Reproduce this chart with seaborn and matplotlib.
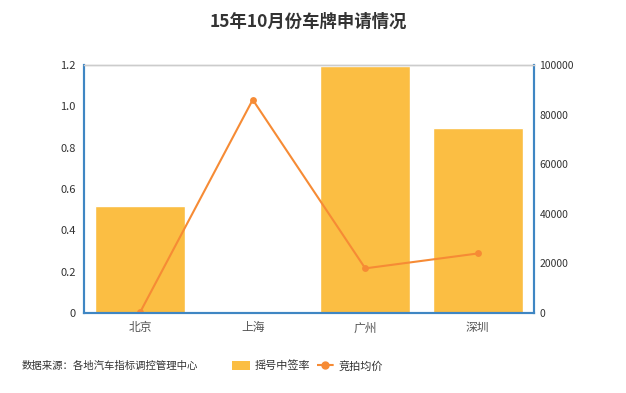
import matplotlib
matplotlib.use('Agg')
import matplotlib.pyplot as plt
import seaborn as sns
import pandas as pd
from matplotlib.patches import Patch
from matplotlib.lines import Line2D

cities = ['北京', '上海', '广州', '深圳']
lottery_rate = [0.52, 0.0, 1.195, 0.895]
avg_price = [400, 86000, 18000, 24000]

sns.set_style('white')
plt.rcParams['font.family'] = ['Noto Sans CJK SC', 'DejaVu Sans']

df = pd.DataFrame({'city': cities, 'rate': lottery_rate, 'price': avg_price})

bar_color = '#FBBE43'
line_color = '#F68B35'
axis_blue = '#3F86C3'

fig = plt.figure(figsize=(6.26, 3.93), dpi=100)
ax = fig.add_axes([84 / 626, 1 - 313 / 393, 450 / 626, 248 / 393])

sns.barplot(data=df, x='city', y='rate', color=bar_color, width=0.8,
            saturation=1, ax=ax)
ax.set_ylim(0, 1.2)
ax.set_xlim(-0.5, 3.5)
ax.set_yticks([0, 0.2, 0.4, 0.6, 0.8, 1.0, 1.2])
ax.set_yticklabels(['0', '0.2', '0.4', '0.6', '0.8', '1.0', '1.2'])
ax.set_xlabel('')
ax.set_ylabel('')

ax2 = ax.twinx()
sns.pointplot(data=df, x='city', y='price', color=line_color, markers='o',
              markersize=3.8, linewidth=1.5, ax=ax2)
ax2.set_ylim(0, 100000)
ax2.set_xlim(-0.5, 3.5)
ax2.set_yticks([0, 20000, 40000, 60000, 80000, 100000])
ax2.set_ylabel('')
ax2.set_xlabel('')

for a in (ax, ax2):
    a.spines['top'].set_color('#cccccc')
    a.spines['top'].set_linewidth(1)
    for s in ('left', 'right', 'bottom'):
        a.spines[s].set_color(axis_blue)
        a.spines[s].set_linewidth(1.5)
    a.tick_params(axis='y', length=0, labelsize=8, labelcolor='#333333', pad=6)

ax.tick_params(axis='x', length=0, labelsize=8.5, labelcolor='#555555', pad=6)
# category boundary ticks
ax.set_xticks([-0.5, 0.5, 1.5, 2.5, 3.5], minor=True)
ax.tick_params(axis='x', which='minor', length=4, color='#333333', width=1)
ax2.tick_params(axis='y', labelsize=7.5, labelcolor='#333333', pad=4)

fig.text(308 / 626, 1 - 22 / 393, '15年10月份车牌申请情况', ha='center', va='center',
         fontsize=12.5, fontweight='bold', color='#333333')
fig.text(22 / 626, 1 - 366 / 393, '数据来源：各地汽车指标调控管理中心', ha='left', va='center',
         fontsize=7.5, color='#333333')

handles = [Patch(facecolor=bar_color, edgecolor='none'),
           Line2D([0], [0], color=line_color, marker='o', markersize=5, linewidth=1.5,
                  linestyle='--', dashes=(3, 2))]
fig.legend(handles, ['摇号中签率', '竞拍均价'], loc='center left',
           bbox_to_anchor=(222 / 626, 1 - 366 / 393), ncol=2, frameon=False,
           fontsize=8, handlelength=1.6, handleheight=0.9, columnspacing=0.6,
           handletextpad=0.4, labelcolor='#333333')

fig.savefig('out.png', dpi=100)
